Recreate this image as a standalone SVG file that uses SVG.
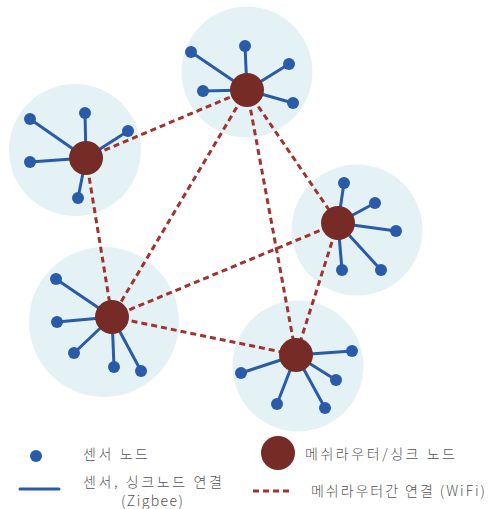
<svg xmlns="http://www.w3.org/2000/svg" width="491" height="509" viewBox="0 0 491 509">
<style>
.zone{fill:#e4f2f6}
.hub{fill:#772b26}
.sensor{fill:#2a5ba8}
.link{stroke:#2a5ba8;stroke-width:3;stroke-linecap:round}
.wifi{stroke:#a3322e;stroke-width:3;stroke-dasharray:6 4;fill:none}
.lbl{font-family:"Noto Sans CJK KR","Noto Sans",sans-serif;font-size:14px;font-weight:300;fill:#555}
</style>
<rect width="491" height="509" fill="#fff"/>
<g id="zones">
<circle class="zone" cx="247" cy="72" r="65.5"/>
<circle class="zone" cx="75" cy="150" r="66"/>
<circle class="zone" cx="357" cy="230" r="65.5"/>
<circle class="zone" cx="104" cy="322" r="75"/>
<circle class="zone" cx="298" cy="366" r="65.5"/>
</g>
<g id="connectors">
<g id="zigbee-links">
<line class="link" x1="247" y1="90" x2="191" y2="52"/>
<line class="link" x1="247" y1="90" x2="245" y2="46"/>
<line class="link" x1="247" y1="90" x2="203" y2="91"/>
<line class="link" x1="247" y1="90" x2="289" y2="64"/>
<line class="link" x1="247" y1="90" x2="293" y2="103"/>
<line class="link" x1="86" y1="158" x2="30" y2="119"/>
<line class="link" x1="86" y1="158" x2="85" y2="113"/>
<line class="link" x1="86" y1="158" x2="128" y2="131"/>
<line class="link" x1="86" y1="158" x2="30" y2="162"/>
<line class="link" x1="86" y1="158" x2="78" y2="198"/>
<line class="link" x1="338" y1="223" x2="344" y2="183"/>
<line class="link" x1="338" y1="223" x2="375" y2="203"/>
<line class="link" x1="338" y1="223" x2="396" y2="231"/>
<line class="link" x1="338" y1="223" x2="342" y2="270"/>
<line class="link" x1="338" y1="223" x2="381" y2="270"/>
<line class="link" x1="112" y1="317" x2="56" y2="279"/>
<line class="link" x1="112" y1="317" x2="57" y2="322"/>
<line class="link" x1="112" y1="317" x2="74" y2="353"/>
<line class="link" x1="112" y1="317" x2="114" y2="367"/>
<line class="link" x1="112" y1="317" x2="141" y2="371"/>
<line class="link" x1="296" y1="355" x2="241" y2="373"/>
<line class="link" x1="296" y1="355" x2="352" y2="351"/>
<line class="link" x1="296" y1="355" x2="336" y2="380"/>
<line class="link" x1="296" y1="355" x2="277" y2="404"/>
<line class="link" x1="296" y1="355" x2="325" y2="408"/>
</g>
<g id="wifi-links">
<line class="wifi" x1="86" y1="158" x2="247" y2="90"/>
<line class="wifi" x1="86" y1="158" x2="112" y2="317"/>
<line class="wifi" x1="247" y1="90" x2="112" y2="317"/>
<line class="wifi" x1="247" y1="90" x2="338" y2="223"/>
<line class="wifi" x1="247" y1="90" x2="296" y2="355"/>
<line class="wifi" x1="338" y1="223" x2="112" y2="317"/>
<line class="wifi" x1="338" y1="223" x2="296" y2="355"/>
<line class="wifi" x1="112" y1="317" x2="296" y2="355"/>
</g>
</g>
<g id="cluster-top">
<circle class="hub" cx="247" cy="90" r="17"/>
<circle class="sensor" cx="191" cy="52" r="6"/>
<circle class="sensor" cx="245" cy="46" r="6"/>
<circle class="sensor" cx="203" cy="91" r="6"/>
<circle class="sensor" cx="289" cy="64" r="6"/>
<circle class="sensor" cx="293" cy="103" r="6"/>
</g>
<g id="cluster-left">
<circle class="hub" cx="86" cy="158" r="17"/>
<circle class="sensor" cx="30" cy="119" r="6"/>
<circle class="sensor" cx="85" cy="113" r="6"/>
<circle class="sensor" cx="128" cy="131" r="6"/>
<circle class="sensor" cx="30" cy="162" r="6"/>
<circle class="sensor" cx="78" cy="198" r="6"/>
</g>
<g id="cluster-right">
<circle class="hub" cx="338" cy="223" r="17"/>
<circle class="sensor" cx="344" cy="183" r="6"/>
<circle class="sensor" cx="375" cy="203" r="6"/>
<circle class="sensor" cx="396" cy="231" r="6"/>
<circle class="sensor" cx="342" cy="270" r="6"/>
<circle class="sensor" cx="381" cy="270" r="6"/>
</g>
<g id="cluster-lower-left">
<circle class="hub" cx="112" cy="317" r="17"/>
<circle class="sensor" cx="56" cy="279" r="6"/>
<circle class="sensor" cx="57" cy="322" r="6"/>
<circle class="sensor" cx="74" cy="353" r="6"/>
<circle class="sensor" cx="114" cy="367" r="6"/>
<circle class="sensor" cx="141" cy="371" r="6"/>
</g>
<g id="cluster-lower-right">
<circle class="hub" cx="296" cy="355" r="17"/>
<circle class="sensor" cx="241" cy="373" r="6"/>
<circle class="sensor" cx="352" cy="351" r="6"/>
<circle class="sensor" cx="336" cy="380" r="6"/>
<circle class="sensor" cx="277" cy="404" r="6"/>
<circle class="sensor" cx="325" cy="408" r="6"/>
</g>
<g id="legend">
<circle class="sensor" cx="36" cy="456" r="6"/>
<text class="lbl" x="83" y="459" textLength="65" lengthAdjust="spacing">센서 노드</text>
<circle class="hub" cx="278" cy="453" r="17"/>
<text class="lbl" x="305" y="459" textLength="150" lengthAdjust="spacing">메쉬라우터/싱크 노드</text>
<line class="link" x1="20" y1="489" x2="59" y2="489" stroke-linecap="butt"/>
<text class="lbl" x="83" y="487" textLength="139" lengthAdjust="spacing">센서, 싱크노드 연결</text>
<text class="lbl" x="152" y="506" text-anchor="middle" font-size="12.5" textLength="62" lengthAdjust="spacing">(Zigbee)</text>
<line class="wifi" x1="253" y1="491" x2="291" y2="491" stroke-dasharray="5 3"/>
<text class="lbl" x="311" y="496" textLength="174" lengthAdjust="spacing">메쉬라우터간 연결 (WiFi)</text>
</g>
</svg>
